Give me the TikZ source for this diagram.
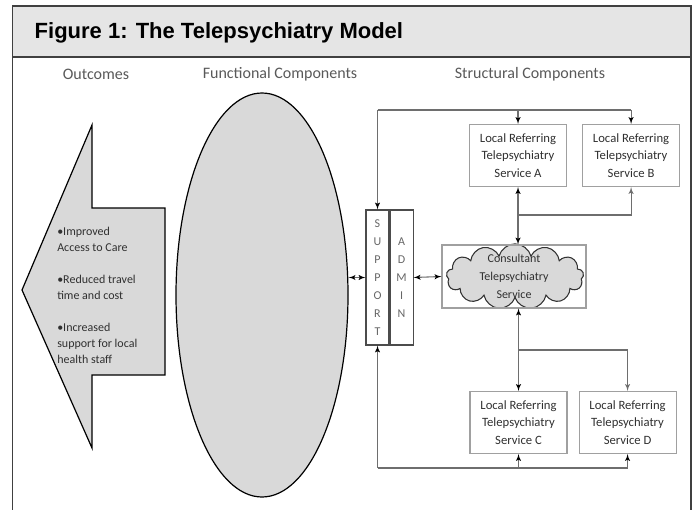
\documentclass[tikz,border=0pt]{standalone}
\usepackage{fontspec}
\setmainfont{Carlito}
\newfontfamily\headfont{Liberation Sans}
\usepackage{xcolor}
\usepackage{tikz}
\usetikzlibrary {positioning}
\usetikzlibrary{arrows}
\usetikzlibrary{shapes.geometric,shapes.symbols}
\definecolor{headgray}{HTML}{E5E5E5}
\definecolor{shapegray}{HTML}{D9D9D9}
\definecolor{linegray}{HTML}{6E6E6E}
\definecolor{boxgray}{HTML}{A0A0A0}
\definecolor{textgray}{HTML}{303030}
\tikzset{edge/.style = {->,> = latex'}}
\tikzset{biedge/.style = {<->,> = latex'}}

\begin{document}
\begin{tikzpicture}[x=0.75pt,y=-0.75pt,
    link/.style={draw=linegray,line width=0.8pt},
    heading/.style={font=\fontsize{12}{14}\selectfont,text=black!65},
    service/.style={rectangle,draw=boxgray,line width=0.8pt,minimum width=72.75pt,minimum height=46.5pt,inner sep=1pt,align=center,font=\fontsize{9.5}{13}\selectfont,text=textgray},
    column/.style={rectangle,draw=black!70,line width=0.8pt,minimum width=17.25pt,minimum height=101.25pt,inner sep=0pt,align=center,font=\fontsize{9}{13.5}\selectfont,text=black!60}]
                \useasboundingbox (0,0) rectangle (696,510);

                % frame and header
                \fill[headgray] (12.5,6) rectangle (691,57);
                \draw[black!75,line width=1.2pt] (12.5,510) -- (12.5,6) -- (691,6) -- (691,510);
                \draw[black!75,line width=1.2pt] (12.5,57) -- (691,57);
                \node[anchor=base west,font=\headfont\bfseries\fontsize{16.5}{20}\selectfont] (title) at (30,39) {Figure 1: The Telepsychiatry Model};

                \node[heading] (outh) at (96,74) {Outcomes};
                \node[heading] (funch) at (280,74) {Functional Components};
                \node[heading] (structh) at (530,74) {Structural Components};

                % outcomes arrow
                \draw[fill=shapegray,line width=0.9pt] (22,290) -- (92,125) -- (92,208) -- (165,208) -- (165,375) -- (92,375) -- (92,448) -- cycle;
                \node[anchor=west,align=left,inner sep=0pt,font=\fontsize{9}{12}\selectfont,text=textgray] (outtext) at (57,295)
                    {•Improved\\Access to Care\\[12pt]•Reduced travel\\time and cost\\[12pt]•Increased\\support for local\\health staff};

                \node[ellipse,draw,fill=shapegray,line width=0.9pt,minimum width=129pt,minimum height=303pt,inner sep=0pt] (func) at (262,295) {};

                \node[column] (supp) at (377.5,277.5) {S\\U\\P\\P\\O\\R\\T};
                \node[column] (admin) [right=0pt of supp] {A\\D\\M\\I\\N};

                \node[cloud,cloud puffs=13,cloud ignores aspect,draw=black!80,fill=shapegray,line width=0.8pt,minimum width=103pt,minimum height=49pt,inner sep=0pt] (cloud) at (515,276.5) {};
                \node[service,minimum width=108pt,minimum height=47.25pt,font=\fontsize{9}{13.5}\selectfont] (consult) at (514,276.5) {Consultant\\Telepsychiatry\\Service};

                \node[service] (refA) at (518,155.5) {Local Referring\\Telepsychiatry\\Service A};
                \node[service] (refB) [right=11.25pt of refA] {Local Referring\\Telepsychiatry\\Service B};
                \node[service] (refC) at (518.5,422.5) {Local Referring\\Telepsychiatry\\Service C};
                \node[service] (refD) [right=8.25pt of refC] {Local Referring\\Telepsychiatry\\Service D};

                \coordinate (topL) at (377.5,110);
                \coordinate (jAB) at (518,215);
                \coordinate (jCD) at (518.5,350);
                \coordinate (botL) at (377.5,468);

                \path[link]
                    (topL) edge (topL -| refB.north)
                    (topL) edge[edge] (supp.north)
                    (refA.north |- topL) edge[edge] (refA.north)
                    (refB.north |- topL) edge[edge] (refB.north)
                    (refA.south) edge[biedge] (refA.south |- consult.north)
                    (refC.north |- consult.south) edge[biedge] (refC.north)
                    (supp.west -| func.east) edge[biedge] (supp.west)
                    (admin.east) edge[biedge] (consult.west)
                    (botL) edge[edge] (supp.south)
                    (botL) edge (botL -| refD.south)
                    (refC.south |- botL) edge[edge] (refC.south)
                    (refD.south |- botL) edge[edge] (refD.south)
                    ;
                \draw[link,edge] (jAB) -| (refB.south);
                \draw[link,edge] (jCD) -| (refD.north);
            \end{tikzpicture}
\end{document}
